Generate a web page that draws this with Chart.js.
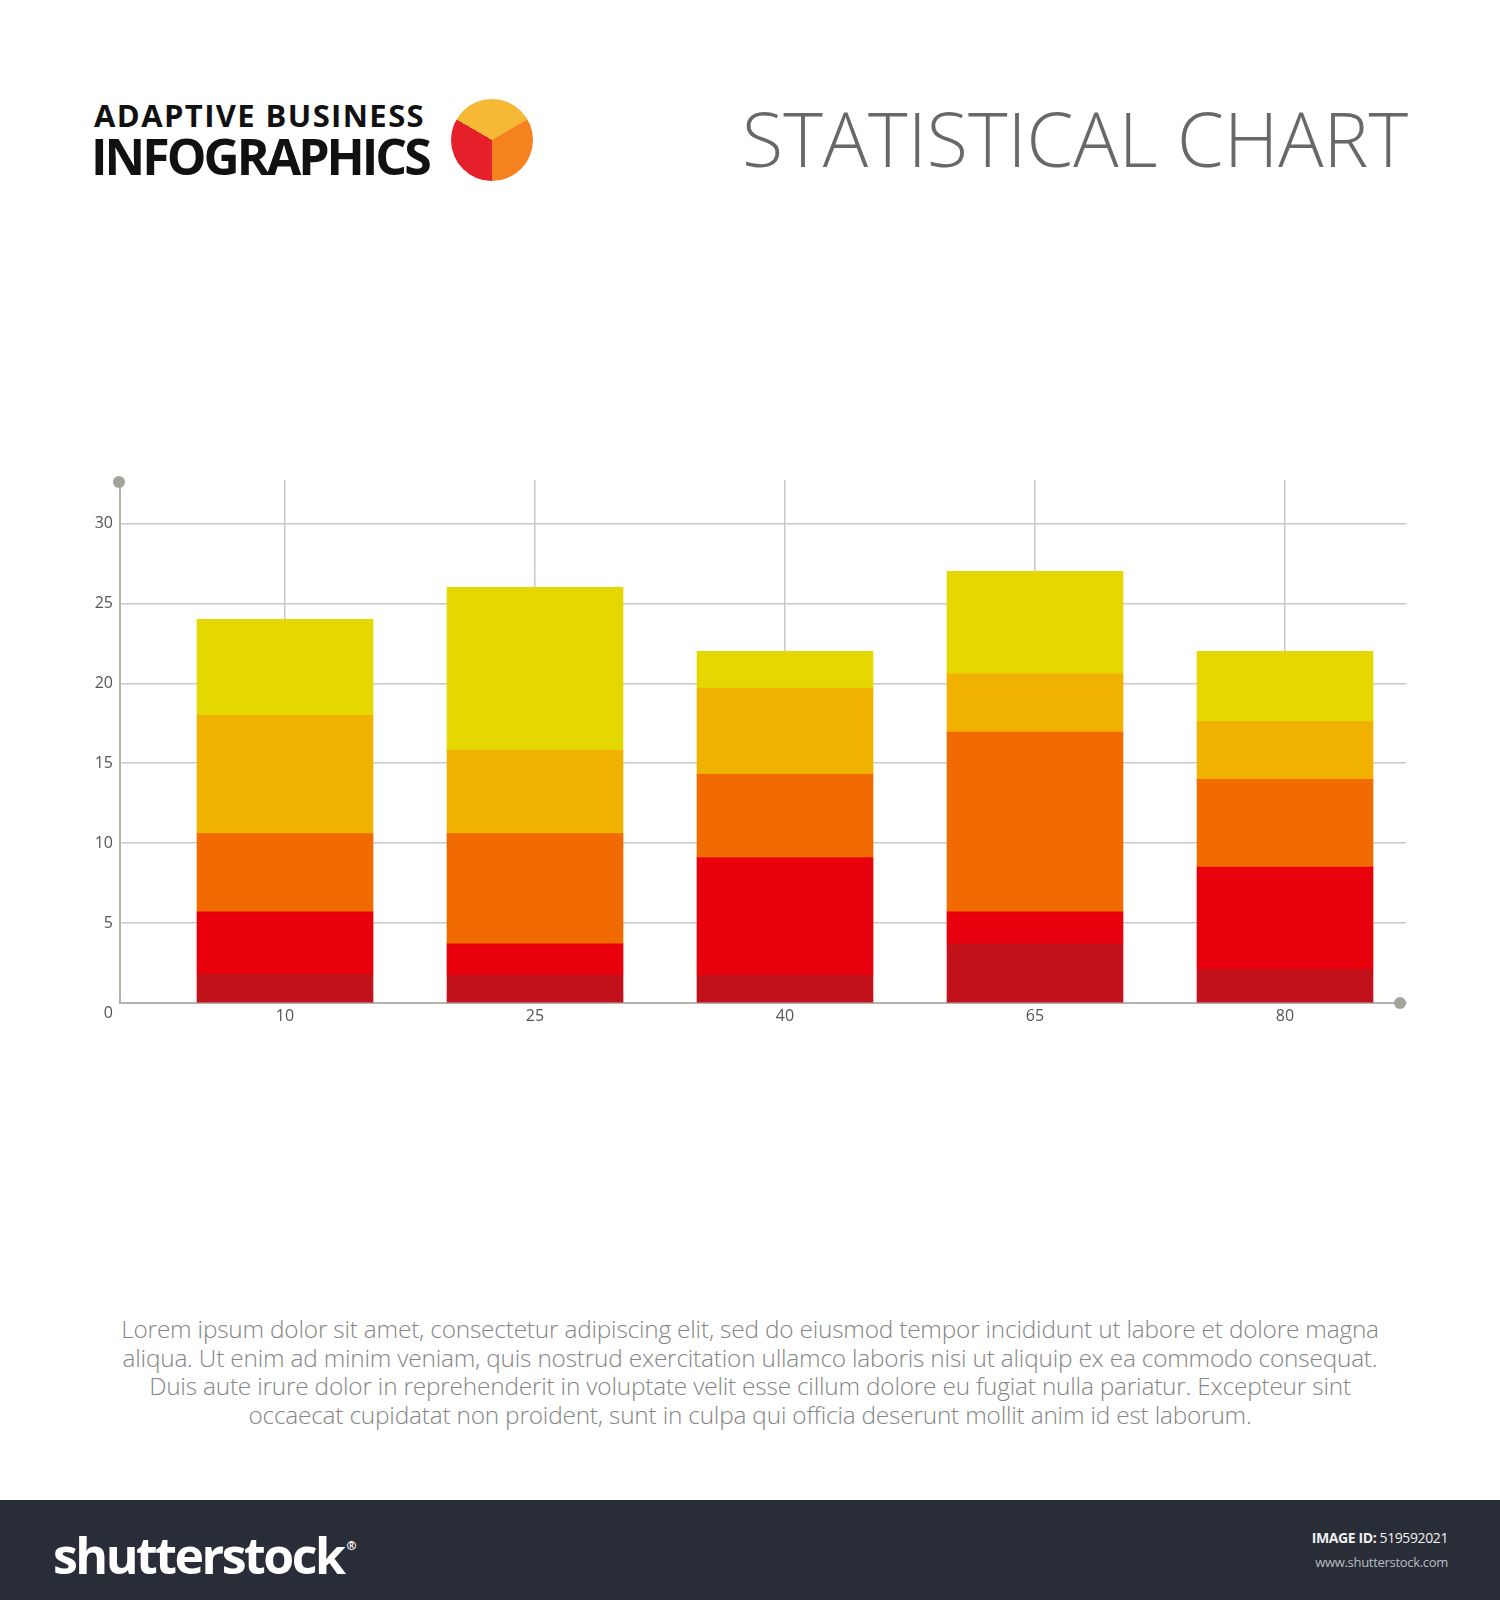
<!DOCTYPE html>
<html>
<head>
<meta charset="utf-8">
<script src="https://cdn.jsdelivr.net/npm/chart.js@4.4.1/dist/chart.umd.min.js"></script>
<style>
  html, body { margin: 0; padding: 0; background: #fff; }
  body { width: 1500px; height: 1600px; position: relative; overflow: hidden; font-family: 'Open Sans', sans-serif; }
  .abs { position: absolute; white-space: nowrap; }
  #brand1 { left: 94px; top: 100px; font-size: 31px; line-height: 31px; font-weight: 700; color: #111; letter-spacing: 1.4px; }
  #brand2 { left: 91px; top: 131px; font-size: 50px; line-height: 50px; font-weight: 700; color: #111; letter-spacing: -3px; }
  #logo { left: 451px; top: 99px; width: 82px; height: 82px; border-radius: 50%;
    background: conic-gradient(from -60deg, #f5b935 0deg 120deg, #f5821f 120deg 240deg, #e5202a 240deg 360deg); }
  #title { right: 92px; top: 100px; font-size: 75.5px; line-height: 75px; font-weight: 300; color: #686868; }
  #chartBox { left: 0; top: 440px; width: 1500px; height: 603px; }
  #para { left: 25px; top: 1315px; width: 1450px; text-align: center; font-size: 24.4px; line-height: 28.6px; font-weight: 300; color: #858585; white-space: normal; letter-spacing: -0.2px; }
  #footer { left: 0; top: 1500px; width: 1500px; height: 100px; background: #282d37; }
  #sslogo { left: 53px; top: 1516px; font-size: 50px; line-height: 60px; font-weight: 700; color: #fff; letter-spacing: -2.5px; }
  #sslogo sup { font-size: 12px; letter-spacing: 0; vertical-align: 24px; margin-left: 3px; }
  #imgid { right: 52px; top: 1528px; font-size: 14px; line-height: 20px; color: #f0f0f0; letter-spacing: -0.4px; }
  #imgid b { font-weight: 700; }
  #site { right: 52px; top: 1552px; font-size: 13px; line-height: 20px; color: #b9bcc2; letter-spacing: -0.3px; }
</style>
</head>
<body>
<div class="abs" id="brand1">ADAPTIVE BUSINESS</div>
<div class="abs" id="brand2">INFOGRAPHICS</div>
<div class="abs" id="logo"></div>
<div class="abs" id="title">STATISTICAL CHART</div>

<div class="abs" id="chartBox"><canvas id="grafico" width="1500" height="603"></canvas></div>

<div class="abs" id="para">Lorem ipsum dolor sit amet, consectetur adipiscing elit, sed do eiusmod tempor incididunt ut labore et dolore magna<br>aliqua. Ut enim ad minim veniam, quis nostrud exercitation ullamco laboris nisi ut aliquip ex ea commodo consequat.<br>Duis aute irure dolor in reprehenderit in voluptate velit esse cillum dolore eu fugiat nulla pariatur. Excepteur sint<br>occaecat cupidatat non proident, sunt in culpa qui officia deserunt mollit anim id est laborum.</div>

<div class="abs" id="footer"></div>
<div class="abs" id="sslogo">shutterstock<sup>®</sup></div>
<div class="abs" id="imgid"><b>IMAGE ID:</b> 519592021</div>
<div class="abs" id="site">www.shutterstock.com</div>

<script>
// Dados
const categorias = ['10', '25', '40', '65', '80'];
const serieVinho   = [1.8, 1.75, 1.75, 3.7, 2.1];
const serieVermelho = [3.9, 1.95, 7.35, 2.0, 6.4];
const serieLaranja = [4.9, 6.9, 5.2, 11.25, 5.5];
const serieAmbar   = [7.4, 5.2, 5.4, 3.65, 3.6];
const serieAmarelo = [6.0, 10.2, 2.3, 6.4, 4.4];
const ticksY = [0, 5, 10, 15, 20, 25, 30];

const cores = ['#c1121b', '#e8000d', '#f26b00', '#f0b100', '#e5d800'];
const series = [serieVinho, serieVermelho, serieLaranja, serieAmbar, serieAmarelo];

// pontos nas extremidades dos eixos
const pontosEixos = {
  id: 'pontosEixos',
  afterDraw(chart) {
    const { ctx, chartArea } = chart;
    ctx.save();
    ctx.fillStyle = '#a3a39b';
    ctx.beginPath();
    ctx.arc(chartArea.left - 1, chartArea.top + 2, 6, 0, Math.PI * 2);
    ctx.fill();
    ctx.beginPath();
    ctx.arc(chartArea.right - 6, chartArea.bottom, 6, 0, Math.PI * 2);
    ctx.fill();
    ctx.restore();
  }
};

new Chart(document.getElementById('grafico'), {
  type: 'bar',
  data: {
    datasets: series.map((s, k) => ({
      data: s.map((v, i) => ({ x: i, y: v })),
      backgroundColor: cores[k],
      borderWidth: 0,
      barThickness: 176
    }))
  },
  options: {
    responsive: false,
    devicePixelRatio: 1,
    animation: false,
    layout: { padding: { left: 0, right: 94, top: 40, bottom: 0 } },
    plugins: { legend: { display: false }, tooltip: { enabled: false } },
    scales: {
      x: {
        type: 'linear',
        stacked: true,
        offset: false,
        min: -0.66,
        max: 4.484,
        afterBuildTicks: (scale) => { scale.ticks = categorias.map((c, i) => ({ value: i })); },
        afterFit: (scale) => { scale.height = 40; },
        ticks: {
          callback: (v) => categorias[v],
          font: { family: 'Open Sans', size: 16 },
          color: '#555',
          padding: 4,
          autoSkip: false,
          maxRotation: 0
        },
        grid: { color: '#c8c8c8', lineWidth: 1.5, drawTicks: false, offset: false },
        border: { color: '#b3b3ab', width: 2 }
      },
      y: {
        stacked: true,
        min: 0,
        max: 32.72,
        afterBuildTicks: (scale) => { scale.ticks = ticksY.map(v => ({ value: v })); },
        afterFit: (scale) => { scale.width = 120; },
        ticks: {
          callback: (v) => v === 0 ? ['', '0'] : String(v),
          font: { family: 'Open Sans', size: 16, lineHeight: 1.35 },
          color: '#555',
          padding: 7
        },
        grid: { color: '#c8c8c8', lineWidth: 1.5, drawTicks: false },
        border: { color: '#b3b3ab', width: 2 }
      }
    }
  },
  plugins: [pontosEixos]
});
</script>
</body>
</html>
